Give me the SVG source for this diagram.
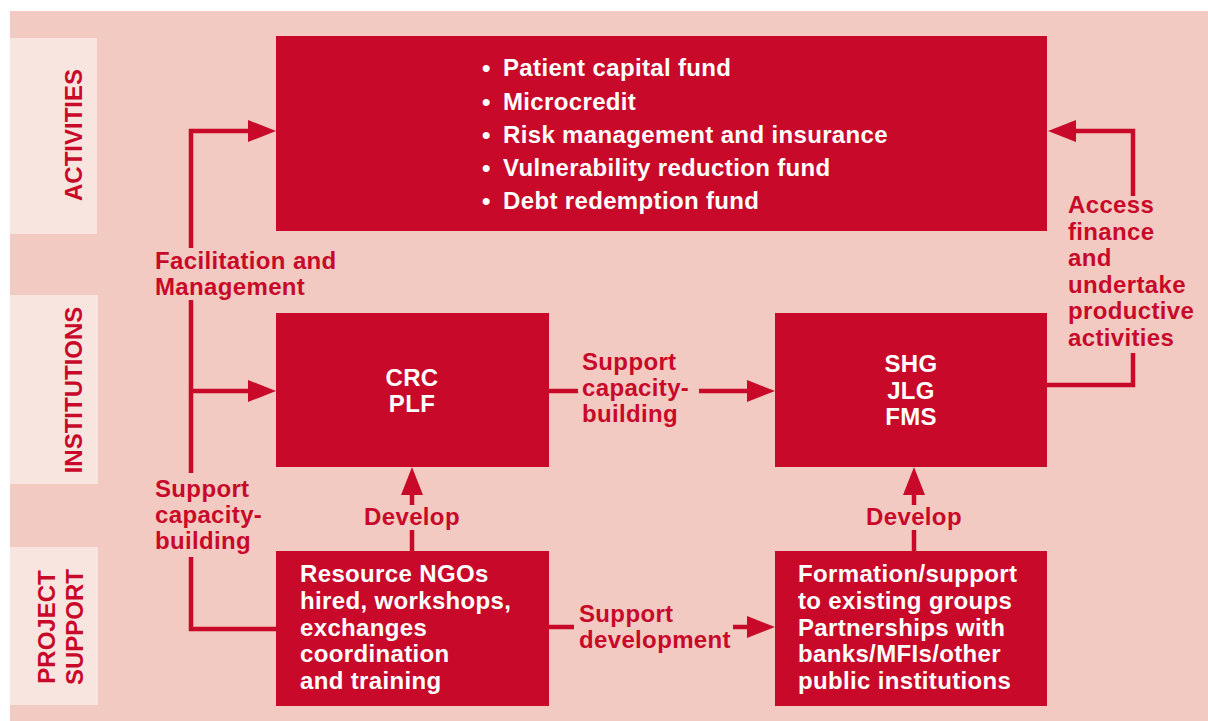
<svg xmlns="http://www.w3.org/2000/svg" width="1208" height="721" viewBox="0 0 1208 721">
  <style>
    .bg { fill: #f2cac1; }
    .band { fill: #f9e5e0; }
    .box { fill: #c8092a; }
    .t { font-family: "Liberation Sans", Arial, Helvetica, sans-serif; font-weight: bold; font-size: 24px; letter-spacing: 0.35px; }
    .w { fill: #ffffff; }
    .r { fill: #c8092a; }
    .side { font-family: "Liberation Sans", Arial, Helvetica, sans-serif; font-weight: bold; font-size: 24px; fill: #c8092a; text-anchor: middle; }
    .mid { text-anchor: middle; }
    .link { fill: none; stroke: #c8092a; stroke-width: 4.5; stroke-linejoin: miter; }
  </style>
  <defs>
    <marker id="arrow" markerUnits="userSpaceOnUse" markerWidth="28" markerHeight="22" refX="0" refY="11" orient="auto" viewBox="0 0 28 22">
      <path d="M0,0 L28,11 L0,22 Z" fill="#c8092a"/>
    </marker>
  </defs>

  <!-- backdrop and row bands -->
  <rect class="bg" x="10" y="11" width="1198" height="710"/>
  <g id="row-labels">
    <rect class="band" x="10" y="38" width="87" height="196"/>
    <rect class="band" x="10" y="295" width="88" height="189"/>
    <rect class="band" x="10" y="547" width="88" height="158"/>
    <text class="side" transform="translate(82,135) rotate(-90)">ACTIVITIES</text>
    <text class="side" transform="translate(82,390) rotate(-90)">INSTITUTIONS</text>
    <text class="side" transform="translate(55,627) rotate(-90)">PROJECT</text>
    <text class="side" transform="translate(83,627) rotate(-90)">SUPPORT</text>
  </g>

  <!-- nodes -->
  <g id="activities">
    <rect class="box" x="276" y="36" width="771" height="195"/>
    <text class="t w">
      <tspan x="482" y="76">•</tspan><tspan x="503" y="76">Patient capital fund</tspan>
      <tspan x="482" y="109.5">•</tspan><tspan x="503" y="109.5">Microcredit</tspan>
      <tspan x="482" y="143">•</tspan><tspan x="503" y="143">Risk management and insurance</tspan>
      <tspan x="482" y="176">•</tspan><tspan x="503" y="176">Vulnerability reduction fund</tspan>
      <tspan x="482" y="209">•</tspan><tspan x="503" y="209">Debt redemption fund</tspan>
    </text>
  </g>
  <g id="crc-plf">
    <rect class="box" x="276" y="313" width="273" height="154"/>
    <text class="t w mid"><tspan x="412" y="386">CRC</tspan><tspan x="412" y="412">PLF</tspan></text>
  </g>
  <g id="shg-jlg-fms">
    <rect class="box" x="775" y="313" width="272" height="154"/>
    <text class="t w mid"><tspan x="911" y="372">SHG</tspan><tspan x="911" y="398.5">JLG</tspan><tspan x="911" y="425">FMS</tspan></text>
  </g>
  <g id="resource-ngos">
    <rect class="box" x="276" y="551" width="273" height="155"/>
    <text class="t w">
      <tspan x="300" y="582">Resource NGOs</tspan>
      <tspan x="300" y="609">hired, workshops,</tspan>
      <tspan x="300" y="636">exchanges</tspan>
      <tspan x="300" y="662">coordination</tspan>
      <tspan x="300" y="689">and training</tspan>
    </text>
  </g>
  <g id="group-formation">
    <rect class="box" x="775" y="551" width="272" height="155"/>
    <text class="t w">
      <tspan x="798" y="582">Formation/support</tspan>
      <tspan x="798" y="609">to existing groups</tspan>
      <tspan x="798" y="636">Partnerships with</tspan>
      <tspan x="798" y="662">banks/MFIs/other</tspan>
      <tspan x="798" y="689">public institutions</tspan>
    </text>
  </g>

  <!-- connectors -->
  <g id="connectors">
    <path class="link" d="M191,248 V131 H248" marker-end="url(#arrow)"/>
    <path class="link" d="M191,300 V473"/>
    <path class="link" d="M191,391 H248" marker-end="url(#arrow)"/>
    <path class="link" d="M191,557 V629 H276"/>
    <path class="link" d="M549,391 H578"/>
    <path class="link" d="M699,391 H747" marker-end="url(#arrow)"/>
    <path class="link" d="M549,627 H574"/>
    <path class="link" d="M733,627 H747" marker-end="url(#arrow)"/>
    <path class="link" d="M412,551 V530"/>
    <path class="link" d="M412,505 V495" marker-end="url(#arrow)"/>
    <path class="link" d="M914,551 V530"/>
    <path class="link" d="M914,505 V495" marker-end="url(#arrow)"/>
    <path class="link" d="M1047,385 H1133 V353"/>
    <path class="link" d="M1133,196 V131 H1076" marker-end="url(#arrow)"/>

    <text class="t r"><tspan x="155" y="269">Facilitation and</tspan><tspan x="155" y="295">Management</tspan></text>
    <text class="t r"><tspan x="155" y="497">Support</tspan><tspan x="155" y="523">capacity-</tspan><tspan x="155" y="549">building</tspan></text>
    <text class="t r"><tspan x="582" y="370">Support</tspan><tspan x="582" y="396">capacity-</tspan><tspan x="582" y="422">building</tspan></text>
    <text class="t r"><tspan x="579" y="622">Support</tspan><tspan x="579" y="648">development</tspan></text>
    <text class="t r mid" x="412" y="525">Develop</text>
    <text class="t r mid" x="914" y="525">Develop</text>
    <text class="t r">
      <tspan x="1068" y="213">Access</tspan>
      <tspan x="1068" y="240">finance</tspan>
      <tspan x="1068" y="266">and</tspan>
      <tspan x="1068" y="293">undertake</tspan>
      <tspan x="1068" y="319">productive</tspan>
      <tspan x="1068" y="346">activities</tspan>
    </text>
  </g>
</svg>
